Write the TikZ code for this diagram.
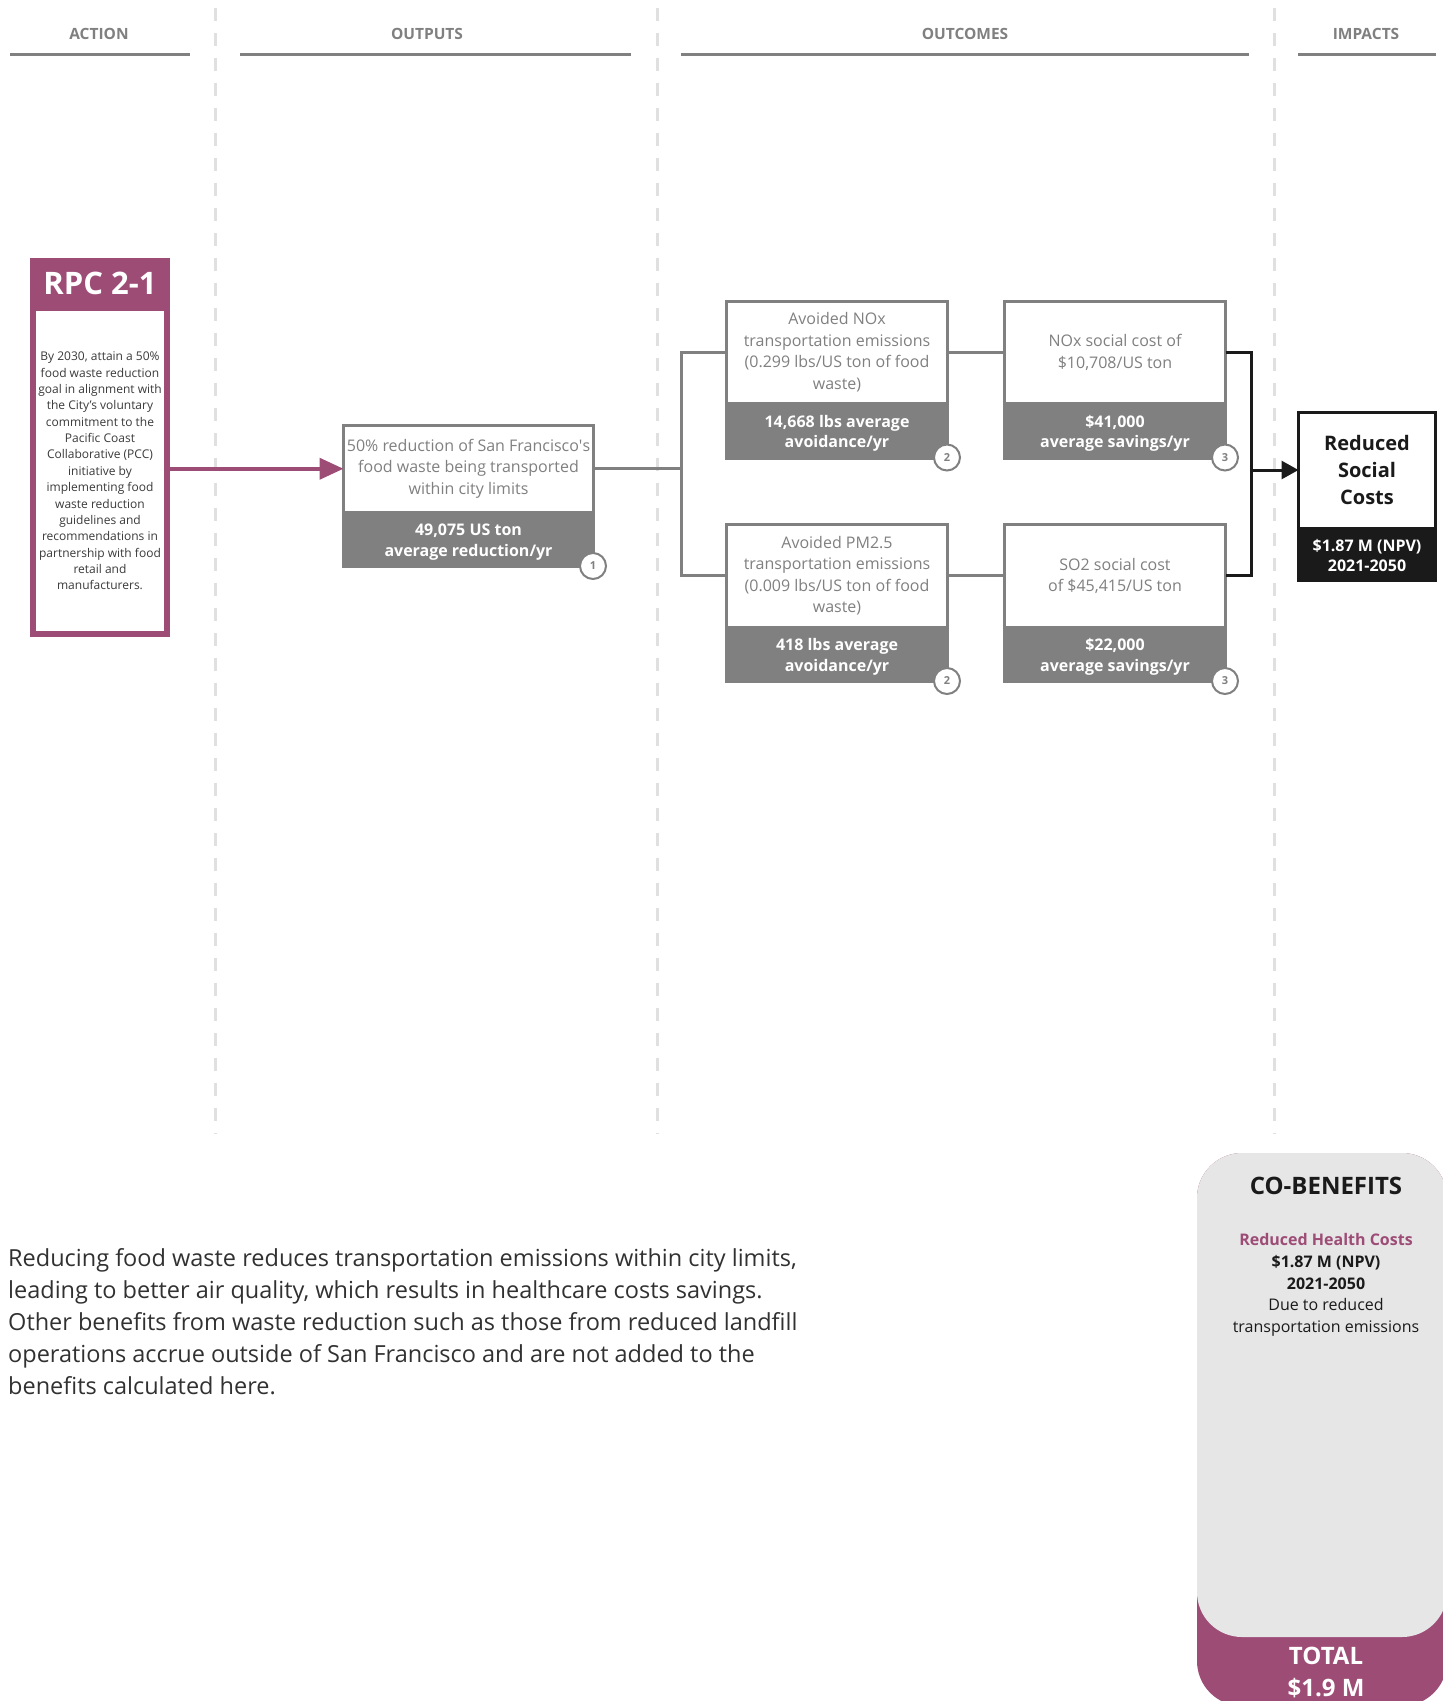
\documentclass[tikz,border=0pt]{standalone}
\usepackage{fontspec}
\setmainfont{Open Sans}
\usetikzlibrary{arrows.meta,positioning}
\definecolor{plumRed}{RGB}{157,76,118}
\definecolor{boxGray}{RGB}{128,128,128}
\definecolor{dashGray}{RGB}{224,224,224}
\definecolor{paleGray}{RGB}{230,230,230}
\definecolor{inkBlack}{RGB}{26,26,26}
\definecolor{bodyGray}{RGB}{58,58,58}

\begin{document}
\begin{tikzpicture}[x=1pt, y=-1pt, >=Stealth,
    hdr/.style={font=\bfseries\fontsize{15.5}{18}\selectfont, text=boxGray},
    boxTop/.style={draw=boxGray, line width=3pt, fill=white, text=boxGray, align=center,
      inner sep=0pt, outer sep=0pt, minimum width=#1, font=\fontsize{16}{21.5}\selectfont},
    boxBand/.style={fill=boxGray, text=white, align=center, inner sep=0pt, outer sep=0pt,
      minimum width=#1, minimum height=56pt, text depth=0pt, font=\bfseries\fontsize{16}{20.6}\selectfont},
    badge/.style={draw=boxGray, line width=2pt, fill=white, circle, minimum size=26pt,
      inner sep=0pt, text=boxGray, font=\bfseries\fontsize{11}{11}\selectfont},
    link/.style={draw=boxGray, line width=3pt},
    darkLink/.style={draw=inkBlack, line width=3pt}]
    \useasboundingbox (0,0) rectangle (1443,1701);

    % column headers
    \foreach \dx in {215,657,1274}
      \draw[dashGray, line width=3pt, dash pattern=on 13pt off 12pt] (\dx,8) -- (\dx,1134);
    \foreach \xa/\xb in {10/190, 240/631, 681/1249, 1298/1436}
      \draw[boxGray, line width=3pt] (\xa,54) -- (\xb,54);
    \node[hdr] (hAct) at (99,34) {ACTION};
    \node[hdr] (hOut) at (427,34) {OUTPUTS};
    \node[hdr] (hOutc) at (965,34) {OUTCOMES};
    \node[hdr] (hImp) at (1366,34) {IMPACTS};

    % action
    \node[fill=plumRed, minimum width=140pt, minimum height=50pt, inner sep=0pt, outer sep=0pt,
      text=white, font=\bfseries\fontsize{31}{31}\selectfont] (RPC) at (100,283) {RPC 2-1};
    \node[draw=plumRed, line width=6pt, fill=white, minimum width=134pt, minimum height=326pt,
      inner sep=0pt, outer sep=0pt, below=0pt of RPC, align=center, text=bodyGray,
      font=\fontsize{12}{16.35}\selectfont] (RPCB)
      {By 2030, attain a 50\%\\food waste reduction\\goal in alignment with\\the City’s voluntary\\
       commitment to the\\Pacific Coast\\Collaborative (PCC)\\initiative by\\implementing food\\
       waste reduction\\guidelines and\\recommendations in\\partnership with food\\retail and\\manufacturers.};

    % outputs
    \node[boxTop=250pt, minimum height=86.5pt] (OUT) at (468.5,468.75)
      {50\% reduction of San Francisco\textquotesingle s\\food waste being transported\\within city limits};
    \node[boxBand=253pt, below=0pt of OUT] (OUTV) {49,075 US ton\\average reduction/yr};
    \node[badge, xshift=-2pt, yshift=2pt] (B1) at (OUTV.south east) {1};

    % outcomes
    \node[boxTop=221pt, minimum height=102.5pt] (NOX) at (837,352.25)
      {Avoided NOx\\transportation emissions\\(0.299 lbs/US ton of food\\waste)};
    \node[boxBand=224pt, below=0pt of NOX] (NOXV) {14,668 lbs average\\avoidance/yr};
    \node[badge, xshift=-2pt, yshift=2pt] (B2a) at (NOXV.south east) {2};

    \node[boxTop=221pt, minimum height=102.5pt] (NOXC) at (1115,352.25)
      {NOx social cost of\\\$10,708/US ton};
    \node[boxBand=224pt, below=0pt of NOXC] (NOXCV) {\$41,000\\average savings/yr};
    \node[badge, xshift=-2pt, yshift=2pt] (B3a) at (NOXCV.south east) {3};

    \node[boxTop=221pt, minimum height=102.5pt] (PM) at (837,575.75)
      {Avoided PM2.5\\transportation emissions\\(0.009 lbs/US ton of food\\waste)};
    \node[boxBand=224pt, below=0pt of PM] (PMV) {418 lbs average\\avoidance/yr};
    \node[badge, xshift=-2pt, yshift=2pt] (B2b) at (PMV.south east) {2};

    \node[boxTop=221pt, minimum height=102.5pt] (SOC) at (1115,575.75)
      {SO2 social cost\\of \$45,415/US ton};
    \node[boxBand=224pt, below=0pt of SOC] (SOCV) {\$22,000\\average savings/yr};
    \node[badge, xshift=-2pt, yshift=2pt] (B3b) at (SOCV.south east) {3};

    % impacts
    \node[draw=inkBlack, line width=3pt, fill=white, minimum width=137pt, minimum height=115.5pt,
      inner sep=0pt, outer sep=0pt, align=center, text=inkBlack,
      font=\bfseries\fontsize{20}{27}\selectfont] (IMP) at (1367,470.25) {Reduced\\Social\\Costs};
    \node[fill=inkBlack, minimum width=140pt, minimum height=54pt, inner sep=0pt, outer sep=0pt,
      below=0pt of IMP, align=center, text=white,
      font=\bfseries\fontsize{16}{20}\selectfont] (IMPV) {\$1.87 M (NPV)\\2021-2050};

    % connectors
    \coordinate (FORK) at (681,470);
    \coordinate (JOIN) at (1251,470);
    \draw[plumRed, line width=4pt, -{Triangle[length=24pt, width=21pt]}] (RPCB.east |- OUT.west) -- (OUT.west);
    \draw[link] (OUT.east) -- (OUT.east -| FORK);
    \draw[link] (NOX.west) -| (FORK) |- (PM.west);
    \draw[link] (NOX.east) -- (NOXC.west);
    \draw[link] (PM.east) -- (SOC.west);
    \draw[darkLink] (NOXC.east) -| (JOIN) |- (SOC.east);
    \draw[darkLink, -{Triangle[length=17pt, width=18pt]}] (JOIN) -- (IMP.west |- JOIN);

    % co-benefits
    \fill[plumRed, rounded corners=45pt] (1197,1153) rectangle (1447,1706);
    \fill[paleGray, rounded corners=45pt] (1197,1153) rectangle (1447,1637);
    \node[text=inkBlack, font=\bfseries\fontsize{24}{28}\selectfont] (COB) at (1326,1186) {CO-BENEFITS};
    \node[align=center, text=inkBlack, font=\fontsize{16}{21.75}\selectfont] (COBT) at (1326,1285)
      {{\color{plumRed}\bfseries Reduced Health Costs}\\{\bfseries \$1.87 M (NPV)}\\{\bfseries 2021-2050}\\
       Due to reduced\\transportation emissions};
    \node[align=center, text=white, font=\bfseries\fontsize{24}{32}\selectfont] (TOT) at (1326,1672)
      {TOTAL\\\$1.9 M};

    % summary
    \node[anchor=north west, align=left, inner sep=0pt, text=inkBlack!90,
      font=\fontsize{23.5}{32}\selectfont] (SUM) at (8,1248)
      {Reducing food waste reduces transportation emissions within city limits,\\
       leading to better air quality, which results in healthcare costs savings.\\
       Other benefits from waste reduction such as those from reduced landfill\\
       operations accrue outside of San Francisco and are not added to the\\
       benefits calculated here.};
\end{tikzpicture}
\end{document}
